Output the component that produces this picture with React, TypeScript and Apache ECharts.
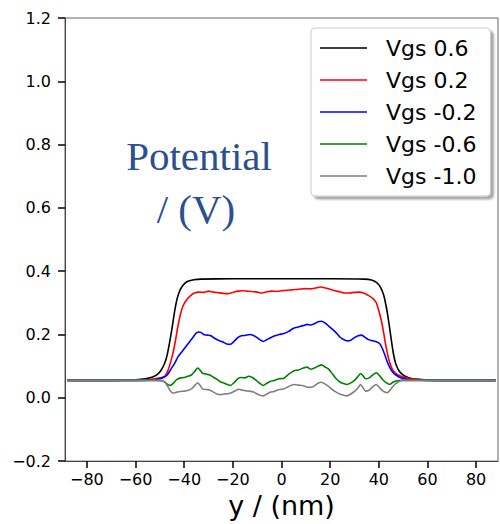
import React, { useEffect, useRef } from "react";
import * as echarts from "echarts";

const seriesNames = ["Vgs 0.6", "Vgs 0.2", "Vgs -0.2", "Vgs -0.6", "Vgs -1.0"];
const seriesColors = ["#000000", "#ff0000", "#0000ff", "#008000", "#808080"];
const xTicks = [-80, -60, -40, -20, 0, 20, 40, 60, 80];

const vgs06: number[][] = [
  [-88, 0.055], [-70, 0.055], [-60, 0.057], [-56, 0.06], [-53, 0.066], [-51, 0.074], [-49.5, 0.087],
  [-48, 0.11], [-47, 0.135], [-46, 0.175], [-45, 0.22], [-44, 0.27], [-43, 0.31], [-42, 0.335],
  [-41, 0.35], [-40, 0.36], [-38.5, 0.368], [-36, 0.373], [-33, 0.375], [-20, 0.376], [0, 0.376],
  [20, 0.376], [34, 0.375], [37, 0.372], [39, 0.365], [40.5, 0.352], [42, 0.325], [43, 0.29],
  [44, 0.245], [45, 0.19], [46, 0.14], [47, 0.107], [48.5, 0.083], [50, 0.072], [52, 0.064],
  [55, 0.059], [60, 0.056], [70, 0.055], [88, 0.055],
];

const vgs02: number[][] = [
  [-88, 0.055], [-60, 0.055], [-55, 0.057], [-52, 0.06], [-50, 0.063], [-48, 0.068], [-46.5, 0.09],
  [-45.5, 0.115], [-44.5, 0.145], [-43.5, 0.185], [-42.5, 0.23], [-41.5, 0.265], [-40.5, 0.29],
  [-39, 0.31], [-37.5, 0.322], [-36, 0.33], [-34, 0.334], [-32, 0.333], [-30, 0.337], [-28, 0.334],
  [-26, 0.332], [-24, 0.33], [-22, 0.329], [-20, 0.333], [-18, 0.337], [-16, 0.338], [-14, 0.337],
  [-12, 0.336], [-10, 0.334], [-8, 0.331], [-6, 0.335], [-4, 0.337], [-2, 0.336], [0, 0.338],
  [2, 0.34], [4, 0.341], [6, 0.342], [8, 0.344], [10, 0.345], [12, 0.344], [14, 0.347], [16, 0.35],
  [18, 0.347], [20, 0.343], [22, 0.338], [24, 0.335], [26, 0.331], [28, 0.331], [30, 0.333],
  [32, 0.334], [34, 0.33], [36, 0.322], [37.5, 0.314], [39, 0.3], [40, 0.275], [41, 0.245],
  [42, 0.205], [43, 0.16], [44, 0.125], [45, 0.1], [46, 0.085], [48, 0.072], [50, 0.066],
  [53, 0.061], [57, 0.058], [62, 0.056], [70, 0.055], [88, 0.055],
];

const vgsM02: number[][] = [
  [-88, 0.055], [-60, 0.055], [-55, 0.056], [-52, 0.057], [-50, 0.06], [-48.5, 0.064], [-47, 0.072],
  [-45.5, 0.09], [-44, 0.108], [-42.5, 0.13], [-41, 0.145], [-39.5, 0.16], [-38, 0.175],
  [-36.5, 0.19], [-35, 0.205], [-33.5, 0.208], [-32, 0.2], [-30.5, 0.198], [-29, 0.196],
  [-27.5, 0.188], [-26, 0.182], [-24, 0.176], [-22.5, 0.17], [-21, 0.169], [-19.5, 0.178],
  [-18, 0.19], [-16.5, 0.196], [-15, 0.197], [-13, 0.2], [-11.5, 0.197], [-10, 0.19], [-8.5, 0.182],
  [-7.5, 0.178], [-6, 0.184], [-4.5, 0.19], [-3, 0.195], [-1, 0.2], [1, 0.203], [3, 0.21],
  [5, 0.22], [7, 0.224], [9, 0.228], [10.5, 0.232], [12, 0.23], [13.5, 0.234], [15, 0.24],
  [16.5, 0.242], [18, 0.236], [19.5, 0.226], [21, 0.216], [22.5, 0.205], [24, 0.192],
  [25.5, 0.184], [27, 0.18], [28.5, 0.182], [30, 0.19], [31.5, 0.196], [33, 0.198], [34.5, 0.19],
  [36, 0.183], [37.5, 0.18], [39, 0.177], [40.5, 0.17], [41.5, 0.155], [42.5, 0.135],
  [43.5, 0.113], [44.5, 0.096], [45.5, 0.083], [47, 0.072], [49, 0.063], [52, 0.058],
  [56, 0.056], [62, 0.055], [88, 0.055],
];

const vgsM06: number[][] = [
  [-88, 0.055], [-52, 0.055], [-49, 0.054], [-48, 0.05], [-47, 0.043], [-46, 0.039], [-45, 0.042],
  [-44, 0.05], [-43, 0.058], [-41.5, 0.063], [-40, 0.064], [-38.5, 0.068], [-37, 0.072],
  [-35.5, 0.085], [-34.5, 0.094], [-33.5, 0.088], [-32.5, 0.078], [-31, 0.075], [-29.5, 0.072],
  [-28, 0.065], [-26.5, 0.058], [-25, 0.05], [-23.5, 0.046], [-22, 0.041], [-21, 0.039],
  [-19.5, 0.048], [-18, 0.06], [-16.5, 0.064], [-15, 0.063], [-13.5, 0.068], [-12, 0.064],
  [-10.5, 0.056], [-9, 0.046], [-7.5, 0.039], [-6, 0.046], [-4.5, 0.052], [-3, 0.055], [-1, 0.06],
  [1, 0.062], [3, 0.075], [5, 0.085], [7, 0.088], [9, 0.094], [10.5, 0.097], [12, 0.09],
  [13.5, 0.094], [15, 0.1], [16.5, 0.104], [18, 0.097], [19.5, 0.09], [21, 0.075], [22.5, 0.06],
  [24, 0.05], [25.5, 0.045], [27, 0.042], [28.5, 0.047], [30, 0.055], [31.5, 0.068], [32.5, 0.077],
  [33.5, 0.07], [34.5, 0.06], [36, 0.063], [37.5, 0.072], [39, 0.079], [40.5, 0.068],
  [41.5, 0.058], [43, 0.048], [44.5, 0.042], [46, 0.05], [47.5, 0.054], [49, 0.055], [88, 0.055],
];

const vgsM10: number[][] = [
  [-88, 0.055], [-50, 0.055], [-48.5, 0.052], [-47.5, 0.045], [-46.5, 0.032], [-45.5, 0.02],
  [-44.5, 0.015], [-43, 0.018], [-41.5, 0.02], [-40, 0.021], [-38.5, 0.023], [-37, 0.028],
  [-35.5, 0.04], [-34.5, 0.047], [-33.5, 0.04], [-32.5, 0.028], [-31, 0.026], [-29.5, 0.025],
  [-28, 0.018], [-26.5, 0.012], [-25, 0.01], [-23.5, 0.012], [-22, 0.013], [-20.5, 0.016],
  [-19, 0.022], [-17.5, 0.027], [-16, 0.024], [-14.5, 0.022], [-13, 0.021], [-11.5, 0.018],
  [-10, 0.012], [-8.5, 0.007], [-7.5, 0.006], [-6, 0.012], [-4.5, 0.018], [-3, 0.02], [-1, 0.026],
  [1, 0.028], [3, 0.036], [5, 0.042], [7, 0.04], [9, 0.038], [11, 0.033], [13, 0.035], [15, 0.046],
  [16.5, 0.049], [18, 0.043], [19.5, 0.035], [21, 0.025], [22.5, 0.018], [24, 0.012], [25.5, 0.008],
  [27, 0.006], [28.5, 0.012], [30, 0.02], [31.5, 0.032], [32.5, 0.042], [33.5, 0.032],
  [34.5, 0.021], [36, 0.024], [37.5, 0.035], [39, 0.042], [40.5, 0.03], [42, 0.02], [43.5, 0.016],
  [45, 0.028], [46.5, 0.042], [48, 0.05], [49.5, 0.055], [88, 0.055],
];

const seriesData = [vgs06, vgs02, vgsM02, vgsM06, vgsM10];

const minus = (s: string) => s.replace("-", "\u2212");

// legend icon: a 47px line followed by empty space (a near-invisible dot sets the box width)
const legendIcon = "path://M0,0L47,0L47,1.5L0,1.5Z M60.98,0L61,0L61,1.5L60.98,1.5Z";

export default function App() {
  const ref = useRef<HTMLDivElement>(null);
  useEffect(() => {
    if (!ref.current) return;
    const chart = echarts.init(ref.current, undefined, { renderer: "svg" });
    const font = "DejaVu Sans";
    chart.setOption({
      animation: false,
      backgroundColor: "#ffffff",
      grid: {
        left: 65,
        right: 2,
        top: 18,
        bottom: 60,
        show: true,
        borderColor: "#666",
        borderWidth: 1,
        backgroundColor: "transparent",
      },
      xAxis: {
        type: "value",
        min: -89,
        max: 89,
        name: "y / (nm)",
        nameLocation: "middle",
        nameGap: 30,
        nameTextStyle: { fontFamily: font, fontSize: 27, color: "#000" },
        axisLine: { show: true, onZero: false, lineStyle: { color: "#444", width: 1 } },
        axisTick: {
          show: true,
          length: 7,
          lineStyle: { color: "#000", width: 1.5 },
          customValues: xTicks,
        },
        axisLabel: {
          fontFamily: font,
          fontSize: 16,
          color: "#000",
          margin: 10,
          customValues: xTicks,
          formatter: (v: number) => minus(String(v)),
        },
        splitLine: { show: false },
      },
      yAxis: {
        type: "value",
        min: -0.2,
        max: 1.2,
        interval: 0.2,
        axisLine: { show: true, onZero: false, lineStyle: { color: "#444", width: 1 } },
        axisTick: { show: true, length: 7, lineStyle: { color: "#000", width: 1.5 } },
        axisLabel: {
          fontFamily: font,
          fontSize: 16,
          color: "#000",
          margin: 14,
          formatter: (v: number) => minus(v.toFixed(1)),
        },
        splitLine: { show: false },
      },
      legend: {
        orient: "vertical",
        left: 311,
        top: 28,
        padding: [9, 14, 9, 9],
        icon: legendIcon,
        symbolKeepAspect: false,
        itemWidth: 61,
        itemHeight: 1.5,
        itemGap: 10,
        backgroundColor: "#ffffff",
        borderColor: "#cccccc",
        borderWidth: 1,
        borderRadius: 4,
        shadowColor: "rgba(0,0,0,0.35)",
        shadowBlur: 2,
        shadowOffsetX: 3,
        shadowOffsetY: 3,
        textStyle: { fontFamily: font, fontSize: 22, lineHeight: 22, color: "#000" },
        data: seriesNames,
      },
      graphic: [
        {
          type: "text",
          x: 199,
          y: 156,
          style: {
            text: "Potential",
            fontFamily: "Liberation Serif",
            fontSize: 41,
            fill: "#2b5090",
            align: "center",
            verticalAlign: "middle",
          },
        },
        {
          type: "text",
          x: 196,
          y: 209,
          style: {
            text: "/ (V)",
            fontFamily: "Liberation Serif",
            fontSize: 41,
            fill: "#2b5090",
            align: "center",
            verticalAlign: "middle",
          },
        },
      ],
      series: seriesNames.map((name, i) => ({
        name,
        type: "line",
        data: seriesData[i],
        symbol: "none",
        smooth: 0.2,
        lineStyle: { color: seriesColors[i], width: 1.6 },
        itemStyle: { color: seriesColors[i] },
        z: 2 + i,
      })),
    });
    return () => chart.dispose();
  }, []);
  return (
    <div
      ref={ref}
      style={{ position: "fixed", left: 0, top: 0, width: 500, height: 524 }}
    />
  );
}
